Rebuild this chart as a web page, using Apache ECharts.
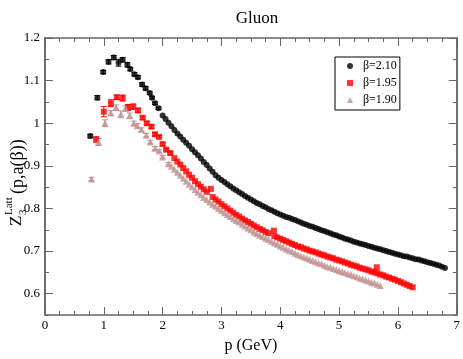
<!DOCTYPE html>
<html>
<head>
<meta charset="utf-8">
<script src="https://cdn.jsdelivr.net/npm/echarts@6/dist/echarts.min.js"></script>
<style>
  html, body { margin: 0; padding: 0; background: #fff; }
  #chart { width: 463px; height: 359px; }
</style>
</head>
<body>
<div id="chart"></div>
<script>
// beta = 2.10 (black circles)
const pB210 = [0.77,0.89,0.99,1.08,1.17,1.25,1.32,1.40,1.45,1.52,1.58,1.65,1.71,1.78,1.82,1.87,1.93,
  2.00,2.05,2.10,2.15,2.20,2.25,2.30,2.35,2.40,2.45,2.50,2.55,2.60,2.65,2.70,2.75,2.80,2.85,2.90,2.95,
  3.00,3.05,3.10,3.15,3.20,3.25,3.30,3.35,3.40,3.45,3.50,3.55,3.60,3.65,3.70,3.75,3.80,3.85,3.90,3.95,
  4.00,4.05,4.10,4.15,4.20,4.25,4.30,4.35,4.40,4.45,4.50,4.55,4.60,4.65,4.70,4.75,4.80,4.85,4.90,4.95,
  5.00,5.05,5.10,5.15,5.20,5.25,5.30,5.35,5.40,5.45,5.50,5.55,5.60,5.65,5.70,5.75,5.80,5.85,5.90,5.95,
  6.00,6.05,6.10,6.15,6.20,6.25,6.30,6.35,6.40,6.45,6.50,6.55,6.60,6.65,6.70,6.75,6.80];
const zB210 = [0.970,1.060,1.120,1.144,1.154,1.142,1.149,1.137,1.127,1.115,1.108,1.091,1.082,1.071,1.060,1.047,1.035,
  1.018,1.010,1.001,0.993,0.984,0.976,0.969,0.961,0.954,0.947,0.939,0.932,0.925,0.917,0.909,0.902,0.894,0.886,0.878,0.872,
  0.867,0.862,0.857,0.852,0.847,0.843,0.838,0.834,0.829,0.825,0.821,0.817,0.813,0.810,0.806,0.803,0.799,0.796,0.792,0.789,
  0.786,0.783,0.780,0.778,0.775,0.773,0.770,0.767,0.764,0.762,0.759,0.757,0.754,0.752,0.749,0.747,0.744,0.742,0.739,0.737,
  0.734,0.732,0.729,0.727,0.725,0.722,0.720,0.718,0.716,0.714,0.712,0.710,0.708,0.706,0.704,0.702,0.700,0.698,0.696,0.694,
  0.692,0.690,0.688,0.687,0.685,0.683,0.681,0.680,0.678,0.676,0.674,0.672,0.670,0.668,0.666,0.663,0.660];
const eB210 = [0.004,0.005,0.004,0.005,0.005,0.008,0.005,0.005,0.004,0.004,0.004,0.004,0.004,0.003,0.003,0.003,0.003];

// beta = 1.95 (red squares)
const pB195 = [0.87,1.00,1.12,1.22,1.32,1.41,1.50,1.58,1.66,1.73,1.81,1.87,1.94,2.00,2.06,2.13,
  2.20,2.25,2.30,2.35,2.40,2.45,2.50,2.55,2.60,2.65,2.70,2.75,2.82,2.85,2.90,2.95,
  3.00,3.05,3.10,3.15,3.20,3.25,3.30,3.35,3.40,3.45,3.50,3.55,3.60,3.65,3.70,3.75,3.80,3.89,3.90,3.95,
  4.00,4.05,4.10,4.15,4.20,4.25,4.30,4.35,4.40,4.45,4.50,4.55,4.60,4.65,4.70,4.75,4.80,4.85,4.90,4.95,
  5.00,5.05,5.10,5.15,5.20,5.25,5.30,5.35,5.40,5.45,5.50,5.55,5.60,5.64,5.65,5.70,5.75,5.80,5.85,5.90,5.95,
  6.00,6.05,6.10,6.15,6.20,6.25];
const zB195 = [0.962,1.027,1.047,1.061,1.059,1.037,1.039,1.030,1.013,1.000,0.992,0.974,0.968,0.951,0.938,0.930,
  0.918,0.910,0.903,0.895,0.887,0.879,0.872,0.864,0.857,0.851,0.845,0.839,0.846,0.827,0.821,0.816,
  0.810,0.805,0.800,0.795,0.790,0.785,0.781,0.776,0.772,0.768,0.764,0.760,0.756,0.752,0.749,0.745,0.742,0.748,0.735,0.732,
  0.729,0.726,0.723,0.720,0.717,0.714,0.711,0.709,0.706,0.704,0.701,0.699,0.697,0.694,0.692,0.690,0.687,0.685,0.683,0.680,
  0.678,0.676,0.673,0.671,0.668,0.666,0.664,0.661,0.659,0.657,0.655,0.652,0.650,0.662,0.648,0.645,0.643,0.640,0.638,0.635,0.633,
  0.630,0.627,0.624,0.621,0.618,0.615];
const eB195 = [0.006,0.012,0.008,0.005,0.007,0.007,0.006,0.005,0.004,0.004,0.004,0.004,0.003,0.003,0.003,0.003];

// beta = 1.90 (rosy triangles)
const pB190 = [0.79,0.91,1.02,1.12,1.21,1.29,1.37,1.44,1.51,1.57,1.64,1.72,1.79,1.87,1.94,2.00,2.10,
  2.15,2.20,2.25,2.30,2.35,2.40,2.45,2.50,2.55,2.60,2.65,2.70,2.75,2.80,2.85,2.90,2.95,
  3.00,3.05,3.10,3.15,3.20,3.25,3.30,3.35,3.40,3.45,3.50,3.55,3.60,3.65,3.70,3.75,3.80,3.85,3.90,3.95,
  4.00,4.05,4.10,4.15,4.20,4.25,4.30,4.35,4.40,4.45,4.50,4.55,4.60,4.65,4.70,4.75,4.80,4.85,4.90,4.95,
  5.00,5.05,5.10,5.15,5.20,5.25,5.30,5.35,5.40,5.45,5.50,5.55,5.60,5.65,5.70];
const zB190 = [0.869,0.956,1.000,1.024,1.037,1.021,1.035,1.018,1.000,0.994,0.985,0.972,0.956,0.941,0.935,0.921,0.905,
  0.899,0.892,0.885,0.878,0.871,0.864,0.857,0.851,0.844,0.838,0.832,0.826,0.821,0.815,0.810,0.805,0.800,
  0.795,0.790,0.785,0.781,0.776,0.772,0.768,0.763,0.759,0.754,0.750,0.745,0.741,0.737,0.734,0.730,0.727,0.723,0.719,0.716,
  0.712,0.709,0.705,0.702,0.699,0.695,0.692,0.689,0.686,0.684,0.681,0.678,0.675,0.672,0.670,0.667,0.664,0.662,0.659,0.657,
  0.654,0.652,0.650,0.647,0.645,0.642,0.640,0.637,0.635,0.632,0.630,0.627,0.625,0.622,0.619];
const eB190 = [0.004,0.008,0.008,0.006,0.006,0.008,0.006,0.006,0.005,0.005,0.004,0.004,0.004,0.004,0.003,0.003,0.003];

const yMajor = [0.6,0.7,0.8,0.9,1,1.1,1.2];
const yMinor = [0.55,0.65,0.75,0.85,0.95,1.05,1.15];

const serif = '"Liberation Serif", "DejaVu Serif", serif';
const frame = '#666';

function pts(xs, ys) {
  return xs.map((x, i) => [x, ys[i]]);
}

function errBars(name, xs, ys, es, color) {
  const data = [];
  es.forEach((e, i) => {
    if (e > 0) data.push([xs[i], ys[i] - e, ys[i] + e]);
  });
  return {
    type: 'custom', name: name, silent: true, z: 1,
    data: data,
    encode: { x: 0, y: [1, 2] },
    renderItem: function (params, api) {
      const lo = api.coord([api.value(0), api.value(1)]);
      const hi = api.coord([api.value(0), api.value(2)]);
      const w = 3;
      const st = { stroke: color, lineWidth: 1 };
      return {
        type: 'group',
        children: [
          { type: 'line', shape: { x1: lo[0], y1: lo[1], x2: hi[0], y2: hi[1] }, style: st },
          { type: 'line', shape: { x1: lo[0] - w, y1: lo[1], x2: lo[0] + w, y2: lo[1] }, style: st },
          { type: 'line', shape: { x1: hi[0] - w, y1: hi[1], x2: hi[0] + w, y2: hi[1] }, style: st }
        ]
      };
    }
  };
}

function yAx(pos, ticks, len, labels) {
  return {
    type: 'value', position: pos, min: 0.55, max: 1.2,
    axisLine: { show: true, lineStyle: { color: frame, width: 1.5 } },
    axisTick: { show: true, inside: true, length: len, customValues: ticks, lineStyle: { color: frame } },
    axisLabel: { show: labels, customValues: ticks, margin: 5, color: '#000', fontFamily: serif, fontSize: 13 },
    splitLine: { show: false }
  };
}

function xAx(pos, labels) {
  return {
    type: 'value', position: pos, min: 0, max: 7, interval: 1,
    axisLine: { show: true, lineStyle: { color: frame, width: 1.5 } },
    axisTick: { show: true, inside: true, length: 8, lineStyle: { color: frame } },
    minorTick: { show: true, splitNumber: 4, length: 4, lineStyle: { color: frame } },
    axisLabel: { show: labels, margin: 4, color: '#000', fontFamily: serif, fontSize: 13 },
    splitLine: { show: false },
    name: labels ? 'p (GeV)' : '', nameLocation: 'middle', nameGap: 23,
    nameTextStyle: { color: '#000', fontFamily: serif, fontSize: 16 }
  };
}

const chart = echarts.init(document.getElementById('chart'));
chart.setOption({
  animation: false,
  title: {
    text: 'Gluon', left: 252, top: 5, textAlign: 'center',
    textStyle: { fontFamily: serif, fontSize: 17, fontWeight: 'normal', color: '#000' }
  },
  grid: { left: 45, right: 4, top: 38, bottom: 31 },
  xAxis: [xAx('bottom', true), xAx('top', false)],
  yAxis: [
    yAx('left', yMajor, 8, true),
    yAx('left', yMinor, 4, false),
    yAx('right', yMajor, 8, false),
    yAx('right', yMinor, 4, false)
  ],
  legend: {
    orient: 'vertical', left: 335, top: 57,
    data: ['β=2.10', 'β=1.95', 'β=1.90'],
    itemWidth: 6, itemHeight: 6, itemGap: 3,
    padding: [2, 3, 3, 12],
    borderColor: '#000', borderWidth: 1,
    textStyle: { fontFamily: serif, fontSize: 12, color: '#000', lineHeight: 14, padding: [0, 0, 0, 5] }
  },
  graphic: [{
    type: 'group', x: 17, y: 178, rotation: Math.PI / 2,
    children: [
      { type: 'text', x: -48, y: 0, style: { text: 'Z', font: '17px ' + serif, fill: '#000', textVerticalAlign: 'middle' } },
      { type: 'text', x: -37, y: 6, style: { text: '3', font: '11px ' + serif, fill: '#000', textVerticalAlign: 'middle' } },
      { type: 'text', x: -37, y: -8, style: { text: 'Latt', font: '11px ' + serif, fill: '#000', textVerticalAlign: 'middle' } },
      { type: 'text', x: -16, y: 1, style: { text: '(p,a(β))', font: '18px ' + serif, fill: '#000', textVerticalAlign: 'middle' } }
    ]
  }],
  series: [
    errBars('e210', pB210, zB210, eB210, '#000'),
    errBars('e195', pB195, zB195, eB195, '#ff0000'),
    errBars('e190', pB190, zB190, eB190, '#c09090'),
    { type: 'scatter', name: 'β=2.10', data: pts(pB210, zB210), symbol: 'circle', symbolSize: 6,
      itemStyle: { color: '#000' }, z: 2 },
    { type: 'scatter', name: 'β=1.95', data: pts(pB195, zB195), symbol: 'rect', symbolSize: 6,
      itemStyle: { color: '#ff0000' }, z: 2 },
    { type: 'scatter', name: 'β=1.90', data: pts(pB190, zB190), symbol: 'triangle', symbolSize: 7,
      itemStyle: { color: '#c09090' }, z: 2 }
  ]
});
</script>
</body>
</html>
